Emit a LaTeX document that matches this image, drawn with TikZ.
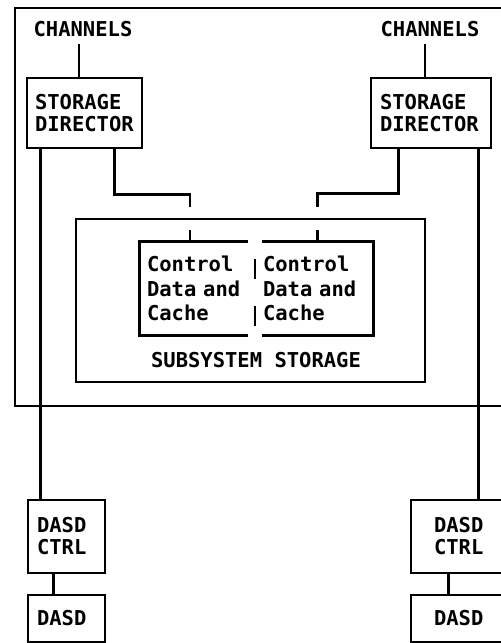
\documentclass[tikz,border=0pt]{standalone}
\usepackage{fontspec}
\newfontfamily\ibmfont{DejaVu Sans Mono Bold}
\usetikzlibrary{calc}

\tikzset{
  wire/.style={line width=2.8pt},
  tag/.style={inner sep=0pt, font=\ibmfont\fontsize{20.5}{22}\selectfont},
  unitbox/.style={draw, line width=2.8pt, inner sep=0pt, align=left,
    font=\ibmfont\fontsize{20.5}{22}\selectfont},
  cacheblock/.style={inner sep=0pt, align=left, minimum height=93pt,
    font=\ibmfont\fontsize{20.5}{24.5}\selectfont}
}

\begin{document}
\begin{tikzpicture}[x=1pt, y=-1pt]
  \useasboundingbox (0,0) rectangle (501,643);
  \clip (0,0) rectangle (501,643);

  % Outer frame, open to the right
  \draw[wire] (530,8) -- (15,8) -- (15,406) -- (530,406);

  % Channels
  \node[tag] (chl) at (83,29) {CHANNELS};
  \node[tag] (chr) at (430,29) {CHANNELS};

  % Storage directors
  \node[unitbox, minimum width=115pt, minimum height=70pt, text width=99pt] (sdl) at (84.5,113) {STORAGE\\DIRECTOR};
  \node[unitbox, minimum width=120pt, minimum height=70pt, text width=102pt] (sdr) at (431,113) {STORAGE\\DIRECTOR};

  % Subsystem storage
  \node[draw, line width=2.8pt, minimum width=349pt, minimum height=163pt] (ss) at (250.5,300.5) {};
  \node[tag] (sslabel) at (256,360) {SUBSYSTEM STORAGE};
  \node[cacheblock, minimum width=108pt, text width=94pt] (cachel) at (194,288.5) {Control\\Data and\\Cache};
  \node[cacheblock, minimum width=111pt, text width=109pt] (cacher) at (317.5,288.5) {Control\\Data and\\Cache};
  \draw[wire] (cachel.north east) -- (cachel.north west) -- (cachel.south west) -- (cachel.south east);
  \draw[wire] (cacher.north west) -- (cacher.north east) -- (cacher.south east) -- (cacher.south west);
  \coordinate (mid) at ($(cachel.east)!0.5!(cacher.west)$);
  \draw[wire] ($(mid)+(0,-29.5)$) -- ($(mid)+(0,-9.5)$);
  \draw[wire] ($(mid)+(0,17.5)$) -- ($(mid)+(0,37.5)$);

  % DASD strings
  \node[unitbox, minimum width=77pt, minimum height=73pt, text width=59pt] (ctll) at (66.5,536.5) {DASD\\CTRL};
  \node[unitbox, minimum width=95pt, minimum height=73pt, text width=49pt] (ctlr) at (458.5,536.5) {DASD\\CTRL};
  \node[unitbox, minimum width=77pt, minimum height=47pt, text width=59pt] (dasdl) at (66.5,618.5) {DASD};
  \node[unitbox, minimum width=95pt, minimum height=47pt, text width=49pt] (dasdr) at (458.5,618.5) {DASD};

  % Connectors
  \coordinate (cl) at ($(chl.south)+(-4,7)$);
  \coordinate (cr) at ($(chr.south)+(-5,7)$);
  \draw[wire] (cl) -- (cl |- sdl.north);
  \draw[wire] (cr) -- (cr |- sdr.north);

  \coordinate (pl) at ($(sdl.south west)+(89,0)$);
  \coordinate (tl) at ($(cachel.north)+(-4,0)$);
  \draw[wire] (pl) |- ($(tl)+(0,-47)$) -- ($(tl)+(0,-35)$);
  \draw[wire] ($(tl)+(0,-12)$) -- (tl);
  \coordinate (pr) at ($(sdr.south east)+(-94,0)$);
  \coordinate (tr) at (cacher.north);
  \draw[wire] (pr) |- ($(tr)+(0,-48)$) -- ($(tr)+(0,-35)$);
  \draw[wire] ($(tr)+(0,-12)$) -- (tr);

  \coordinate (dl) at ($(sdl.south west)+(15,0)$);
  \coordinate (dr) at ($(sdr.south east)+(-14,0)$);
  \draw[wire] (dl) -- (dl |- ctll.north);
  \draw[wire] (dr) -- (dr |- ctlr.north);

  \coordinate (el) at ($(ctll.south west)+(27,0)$);
  \coordinate (er) at ($(ctlr.south west)+(39,0)$);
  \draw[wire] (el) -- (el |- dasdl.north);
  \draw[wire] (er) -- (er |- dasdr.north);
\end{tikzpicture}
\end{document}
